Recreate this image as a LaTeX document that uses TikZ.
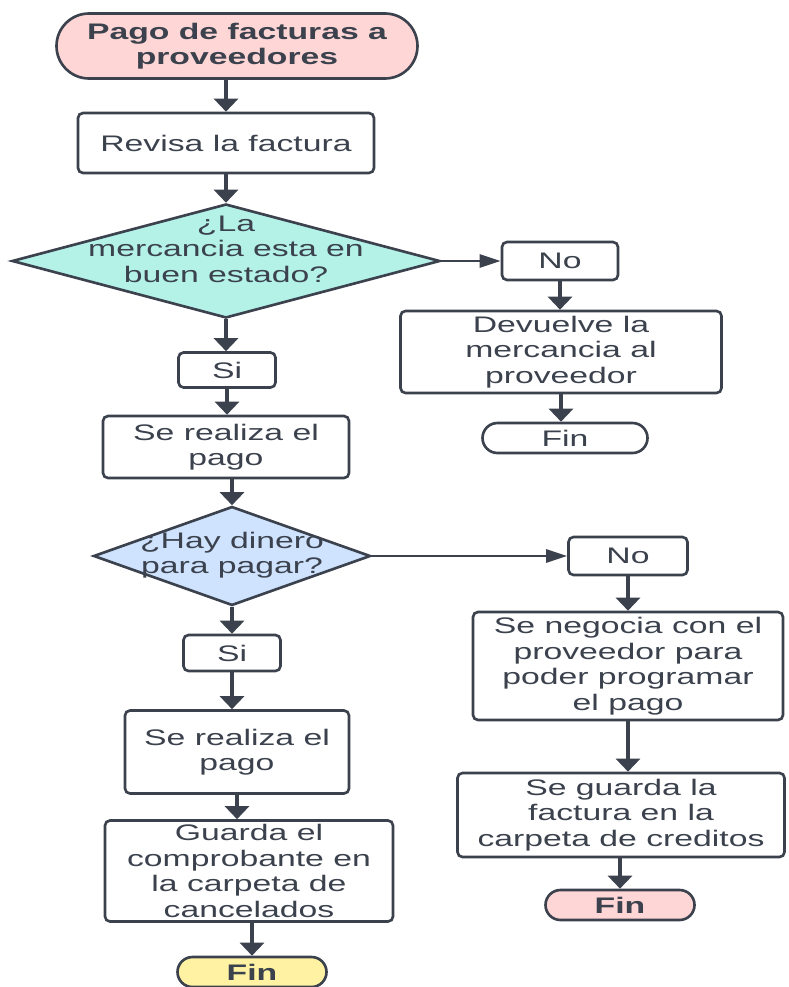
\documentclass[tikz,border=0pt]{standalone}
\usepackage{fontspec}
\setmainfont{Liberation Sans}[FakeStretch=1.5]
\usetikzlibrary{arrows.meta, shapes.geometric, shapes.misc}
\definecolor{ink}{HTML}{3B424D}
\definecolor{startpink}{HTML}{FFD6D6}
\definecolor{decmint}{HTML}{B4F2E8}
\definecolor{decblue}{HTML}{CFE3FF}
\definecolor{endyellow}{HTML}{FFF3A3}
\tikzset{
    box/.style={draw=ink, line width=1.5pt, rounded corners=0.1cm, fill=white, text=ink, align=center, inner sep=0pt},
    term/.style={draw=ink, line width=1.5pt, rounded rectangle, text=ink, align=center, inner sep=0pt},
    decision/.style={draw=ink, line width=1.5pt, diamond, inner sep=0pt},
    qtext/.style={text=ink, align=center, inner sep=0pt},
    flowv/.style={draw=ink, line width=1.8pt, -{Triangle[length=0.26cm, width=0.48cm]}},
    flowh/.style={draw=ink, line width=1.5pt, -{Triangle[length=0.42cm, width=0.26cm]}}
}

\begin{document}
\begin{tikzpicture}[x=0.02cm, y=-0.02cm]
    \def \px {0.02cm}
    \tikzstyle{every node}=[font=\fontsize{12.8}{14.5}\selectfont];
    \useasboundingbox (0,0) rectangle (788,987);
    % main column
    \node[term, fill=startpink, minimum width=361*\px, minimum height=65*\px, font=\fontsize{12.8}{14.5}\selectfont\bfseries] (start) at (237,46) {Pago de facturas a\\proveedores};
    \node[box, minimum width=296*\px, minimum height=60*\px] (rev) at (226,143) {Revisa la factura};
    \node[decision, fill=decmint, minimum width=428*\px, minimum height=114*\px] (q1) at (226,261) {};
    \node[qtext] (q1txt) at (226,249) {¿La\\mercancia esta en\\buen estado?};
    \node[box, minimum width=97*\px, minimum height=35*\px] (si1) at (227,370) {Si};
    \node[box, minimum width=246*\px, minimum height=62*\px] (pago1) at (226,447) {Se realiza el\\pago};
    \node[decision, fill=decblue, minimum width=277*\px, minimum height=99*\px] (q2) at (232,556) {};
    \node[qtext] (q2txt) at (232,555) {¿Hay dinero\\para pagar?};
    \node[box, minimum width=97*\px, minimum height=36*\px] (si2) at (232,653) {Si};
    \node[box, minimum width=224*\px, minimum height=83*\px] (pago2) at (237,752) {Se realiza el\\pago};
    \node[box, minimum width=288*\px, minimum height=101*\px] (gcomp) at (249,871) {Guarda el\\comprobante en\\la carpeta de\\cancelados};
    \node[term, fill=endyellow, minimum width=149*\px, minimum height=30*\px, font=\fontsize{12.8}{14.5}\selectfont\bfseries] (fin3) at (252,972) {Fin};
    % first "No" branch
    \node[box, minimum width=116*\px, minimum height=38*\px] (no1) at (560,261) {No};
    \node[box, minimum width=321*\px, minimum height=82*\px] (dev) at (561,352) {Devuelve la\\mercancia al\\proveedor};
    \node[term, fill=white, minimum width=165*\px, minimum height=30*\px] (fin1) at (565,438) {Fin};
    % second "No" branch
    \node[box, minimum width=119*\px, minimum height=38*\px] (no2) at (628,556) {No};
    \node[box, minimum width=310*\px, minimum height=108*\px] (neg) at (628,666) {Se negocia con el\\proveedor para\\poder programar\\el pago};
    \node[box, minimum width=327*\px, minimum height=84*\px] (gcred) at (621,815) {Se guarda la\\factura en la\\carpeta de creditos};
    \node[term, fill=startpink, minimum width=149*\px, minimum height=30*\px, font=\fontsize{12.8}{14.5}\selectfont\bfseries] (fin2) at (620,905) {Fin};
    % connectors
    \draw[flowv] (rev.north |- start.south) -- (rev.north);
    \draw[flowv] (rev.south) -- (q1.north);
    \draw[flowh] (q1.east) -- (no1.west);
    \draw[flowv] (no1.south) -- (no1.south |- dev.north);
    \draw[flowv] (dev.south) -- (dev.south |- fin1.north);
    \draw[flowv] (q1.south) -- (q1.south |- si1.north);
    \draw[flowv] (si1.south) -- (si1.south |- pago1.north);
    \draw[flowv] (q2.north |- pago1.south) -- (q2.north);
    \draw[flowh] (q2.east) -- (no2.west);
    \draw[flowv] (no2.south) -- (neg.north);
    \draw[flowv] (neg.south) -- (neg.south |- gcred.north);
    \draw[flowv] (fin2.north |- gcred.south) -- (fin2.north);
    \draw[flowv] (q2.south) -- (si2.north);
    \draw[flowv] (si2.south) -- (si2.south |- pago2.north);
    \draw[flowv] (pago2.south) -- (pago2.south |- gcomp.north);
    \draw[flowv] (fin3.north |- gcomp.south) -- (fin3.north);
\end{tikzpicture}
\end{document}
